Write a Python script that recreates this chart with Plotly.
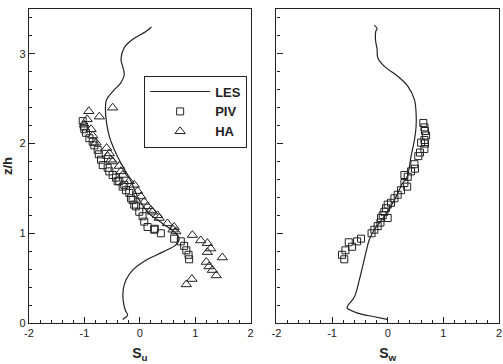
import plotly.graph_objects as go
from plotly.subplots import make_subplots

# Left panel: S_u
les_u_x = [-0.31, -0.22, -0.26, -0.30, -0.30, -0.25, -0.13, 0.11, 0.41, 0.65, 0.71,
           0.65, 0.41, 0.17, -0.01, -0.16, -0.19, -0.34, -0.46, -0.55, -0.60, -0.62,
           -0.60, -0.49, -0.34, -0.28, -0.31, -0.34, -0.28, -0.13, 0.11, 0.21]
les_u_z = [0.04, 0.09, 0.14, 0.25, 0.37, 0.48, 0.59, 0.70, 0.79, 0.87, 0.94,
           1.00, 1.11, 1.22, 1.37, 1.58, 1.62, 1.78, 1.93, 2.08, 2.23, 2.38,
           2.49, 2.58, 2.68, 2.77, 2.86, 2.94, 3.07, 3.16, 3.25, 3.30]

piv_u_x = [-1.03, -1.01, -1.00, -0.97, -0.91, -0.85, -0.82, -0.76, -0.74, -0.70,
           -0.67, -0.58, -0.55, -0.49, -0.43, -0.40, -0.37, -0.31, -0.28, -0.25,
           -0.19, -0.16, -0.13, -0.10, -0.07, -0.01, 0.05, 0.08, 0.14, 0.26, 0.27,
           0.38, 0.62, 0.74, 0.80, 0.84, 0.88, 0.89]
piv_u_z = [2.25, 2.19, 2.16, 2.12, 2.06, 2.02, 1.98, 1.93, 1.88, 1.82,
           1.76, 1.73, 1.69, 1.65, 1.62, 1.58, 1.58, 1.52, 1.54, 1.48,
           1.45, 1.39, 1.37, 1.32, 1.30, 1.24, 1.19, 1.13, 1.07, 1.04, 1.05,
           1.00, 0.94, 0.91, 0.86, 0.81, 0.76, 0.71]

ha_u_x = [-0.49, -0.92, -0.73, -0.95, -1.00, -0.88, -0.85, -0.79, -0.60, -0.55,
          -0.58, -0.52, -0.49, -0.37, -0.34, -0.31, -0.19, -0.10, -0.04, 0.02,
          0.08, 0.14, 0.20, 0.23, 0.32, 0.35, 0.50, 0.62, 0.60, 0.65, 0.95,
          1.10, 1.22, 1.28, 1.22, 1.49, 1.20, 1.25, 1.31, 1.38, 0.94, 0.84]
ha_u_z = [2.40, 2.36, 2.30, 2.27, 2.21, 2.16, 2.09, 2.01, 1.95, 1.89,
          1.86, 1.82, 1.80, 1.75, 1.69, 1.65, 1.58, 1.54, 1.47, 1.41,
          1.35, 1.30, 1.26, 1.24, 1.20, 1.17, 1.11, 1.07, 1.04, 1.02, 0.98,
          0.92, 0.89, 0.83, 0.79, 0.73, 0.68, 0.63, 0.59, 0.53, 0.49, 0.43]

# Right panel: S_w
les_w_x = [-0.01, -0.24, -0.54, -0.73, -0.72, -0.60, -0.51, -0.45, -0.39, -0.33,
           -0.24, -0.06, 0.12, 0.27, 0.35, 0.42, 0.48, 0.51, 0.51, 0.48, 0.36,
           0.18, -0.06, -0.18, -0.19, -0.22, -0.21, -0.19, -0.24]
les_w_z = [0.04, 0.07, 0.11, 0.17, 0.19, 0.29, 0.48, 0.63, 0.79, 0.93,
           1.04, 1.19, 1.37, 1.56, 1.63, 1.86, 2.04, 2.19, 2.34, 2.49, 2.64,
           2.75, 2.86, 2.96, 3.05, 3.16, 3.26, 3.28, 3.32]

piv_w_x = [0.64, 0.66, 0.67, 0.69, 0.66, 0.67, 0.60, 0.66, 0.58, 0.55, 0.48,
           0.49, 0.42, 0.36, 0.30, 0.30, 0.35, 0.24, 0.18, 0.12, 0.06, 0.00,
           -0.03, -0.06, -0.09, 0.00, -0.12, -0.13, -0.18, -0.24, -0.29, -0.48,
           -0.55, -0.70, -0.64, -0.76, -0.82, -0.78]
piv_w_z = [2.23, 2.18, 2.14, 2.09, 2.04, 2.00, 2.01, 1.94, 1.90, 1.86, 1.77,
           1.72, 1.69, 1.63, 1.65, 1.56, 1.52, 1.48, 1.43, 1.39, 1.34, 1.32,
           1.28, 1.24, 1.20, 1.17, 1.17, 1.12, 1.08, 1.04, 1.00, 0.94,
           0.91, 0.90, 0.85, 0.81, 0.76, 0.71]

x_ticks = [-2, -1, 0, 1, 2]
z_ticks = [0, 1, 2, 3]

INK = "#222222"
FONT = "Liberation Sans, Arial, sans-serif"

fig = make_subplots(rows=1, cols=2, shared_yaxes=False, horizontal_spacing=0.055)

fig.add_trace(go.Scatter(x=les_u_x, y=les_u_z, mode="lines", name="LES",
                         line=dict(color=INK, width=1.2, shape="spline")), 1, 1)
fig.add_trace(go.Scatter(x=piv_u_x, y=piv_u_z, mode="markers", name="PIV",
                         marker=dict(symbol="square-open", size=7, color=INK,
                                     line=dict(width=1, color=INK))), 1, 1)
fig.add_trace(go.Scatter(x=ha_u_x, y=ha_u_z, mode="markers", name="HA",
                         marker=dict(symbol="triangle-up-open", size=9, color=INK,
                                     line=dict(width=1, color=INK))), 1, 1)
fig.add_trace(go.Scatter(x=les_w_x, y=les_w_z, mode="lines", showlegend=False,
                         line=dict(color=INK, width=1.2, shape="spline")), 1, 2)
fig.add_trace(go.Scatter(x=piv_w_x, y=piv_w_z, mode="markers", showlegend=False,
                         marker=dict(symbol="square-open", size=7, color=INK,
                                     line=dict(width=1, color=INK))), 1, 2)

axis_common = dict(showline=True, linecolor=INK, linewidth=1.2, mirror=True,
                   showgrid=False, zeroline=False, ticks="inside", ticklen=6,
                   tickcolor=INK, tickwidth=1,
                   tickfont=dict(family=FONT, size=11, color=INK),
                   minor=dict(ticks="inside", ticklen=3, dtick=0.2, tickcolor=INK,
                              showgrid=False))

fig.update_xaxes(range=[-2, 2], tickvals=x_ticks, ticktext=[str(v) for v in x_ticks],
                 **axis_common)
fig.update_yaxes(range=[0, 3.5], tickvals=z_ticks, **axis_common)
fig.update_xaxes(domain=[0, 0.4715], row=1, col=1,
                 title=dict(text="<b>S<sub>u</sub></b>", standoff=9,
                            font=dict(family=FONT, size=14, color=INK)))
fig.update_xaxes(domain=[0.5264, 1], row=1, col=2,
                 title=dict(text="<b>S<sub>w</sub></b>", standoff=9,
                            font=dict(family=FONT, size=14, color=INK)))
fig.update_yaxes(row=1, col=1, ticktext=[str(v) for v in z_ticks],
                 title=dict(text="<b>z/h</b>", standoff=4,
                            font=dict(family=FONT, size=13, color=INK)))
fig.update_yaxes(row=1, col=2, showticklabels=False)

fig.update_layout(
    width=503, height=364,
    margin=dict(l=29, r=1, t=9, b=41),
    paper_bgcolor="white", plot_bgcolor="white",
    showlegend=True,
    legend=dict(x=0.245, y=0.788, xanchor="left", yanchor="top",
                bgcolor="white", bordercolor=INK, borderwidth=1,
                itemwidth=60, tracegroupgap=0,
                font=dict(family=FONT, size=13, color=INK, weight="bold")),
    font=dict(family=FONT, color=INK),
)

fig.write_html("out.html")
